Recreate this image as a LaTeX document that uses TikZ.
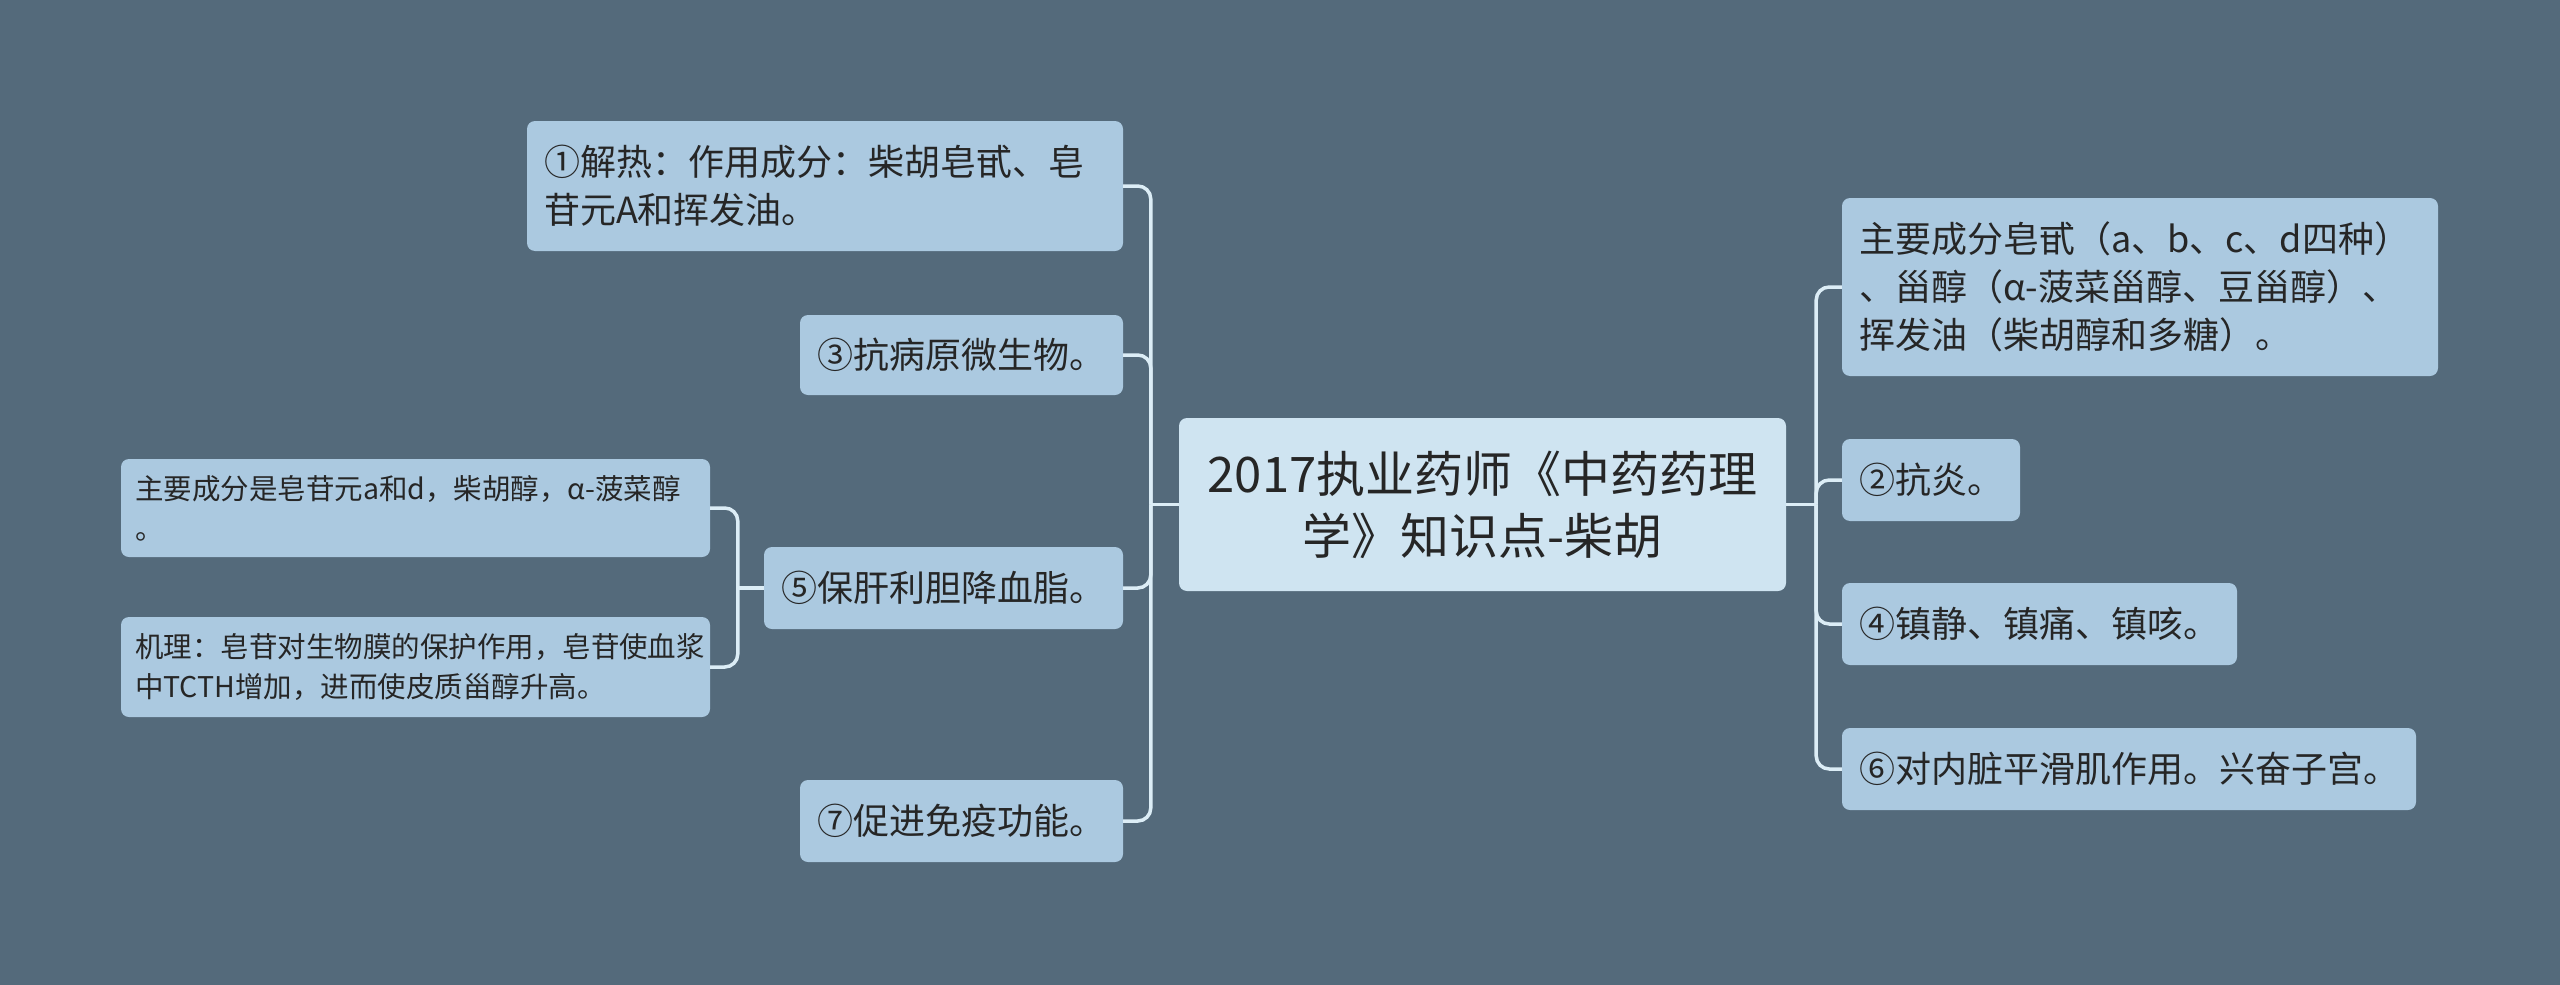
\documentclass[tikz,border=0pt]{standalone}
\usepackage{fontspec}
\setmainfont{Noto Sans CJK SC}
\definecolor{bgslate}{HTML}{546A7B}
\definecolor{leafblue}{HTML}{ABC9E0}
\definecolor{rootblue}{HTML}{CFE4F1}
\definecolor{linkblue}{HTML}{DCEDF6}
\definecolor{inkgray}{HTML}{262626}
\begin{document}
\begin{tikzpicture}[x=1pt,y=-1pt,
    leaf/.style={fill=leafblue,rounded corners=8pt,text=inkgray,align=left,
      inner xsep=17pt,inner ysep=0pt,minimum height=82pt,
      font=\fontsize{36}{48}\selectfont},
    subleaf/.style={leaf,inner xsep=14pt,font=\fontsize{28.5}{40}\selectfont},
    rootbox/.style={fill=rootblue,rounded corners=8pt,text=inkgray,align=center,
      minimum width=607pt,minimum height=173pt,inner sep=0pt,
      font=\fontsize{49}{62}\selectfont},
    link/.style={draw=linkblue,line width=3.5pt,rounded corners=13pt}]
  \fill[bgslate] (0,0) rectangle (2560,985);
  \useasboundingbox (0,0) rectangle (2560,985);
  \draw
    (1482.5,504.5) node[rootbox] (root){2017执业药师《中药药理\\学》知识点-柴胡}
    (825,186) node[leaf,text width=562pt,minimum height=130pt] (n1){①解热：作用成分：柴胡皂甙、皂\\苷元A和挥发油。}
    (961.5,355) node[leaf,text width=289pt,minimum height=80pt] (n3){③抗病原微生物。}
    (943.5,588) node[leaf,text width=325pt] (n5){⑤保肝利胆降血脂。}
    (961.5,821) node[leaf,text width=289pt] (n7){⑦促进免疫功能。}
    (415.5,508) node[subleaf,text width=561pt,minimum height=98pt] (s1){主要成分是皂苷元a和d，柴胡醇，α-菠菜醇\\。}
    (415.5,667) node[subleaf,text width=561pt,minimum height=100pt] (s2){机理：皂苷对生物膜的保护作用，皂苷使血浆\\中TCTH增加，进而使皮质甾醇升高。}
    (2140,287) node[leaf,text width=562pt,minimum height=178pt] (r1){主要成分皂甙（a、b、c、d四种）\\、甾醇（α-菠菜甾醇、豆甾醇）、\\挥发油（柴胡醇和多糖）。}
    (1931,480) node[leaf,text width=144pt] (r2){②抗炎。}
    (2039.5,624) node[leaf,text width=361pt] (r4){④镇静、镇痛、镇咳。}
    (2129,769) node[leaf,text width=540pt] (r6){⑥对内脏平滑肌作用。兴奋子宫。};
  \coordinate (lj) at ([xshift=-28pt]root.west);
  \coordinate (rj) at ([xshift=30pt]root.east);
  \coordinate (sj) at ([xshift=-26pt]n5.west);
  \begin{scope}[link]
    \draw (root.west) -- (lj);
    \draw (root.east) -- (rj);
    \draw (n5.west) -- (sj);
    \draw (lj) |- (n1.east);
    \draw (lj) |- (n3.east);
    \draw (lj) |- (n5.east);
    \draw (lj) |- (n7.east);
    \draw (rj) |- (r1.west);
    \draw (rj) |- (r2.west);
    \draw (rj) |- (r4.west);
    \draw (rj) |- (r6.west);
    \draw (sj) |- (s1.east);
    \draw (sj) |- (s2.east);
  \end{scope}
\end{tikzpicture}
\end{document}
